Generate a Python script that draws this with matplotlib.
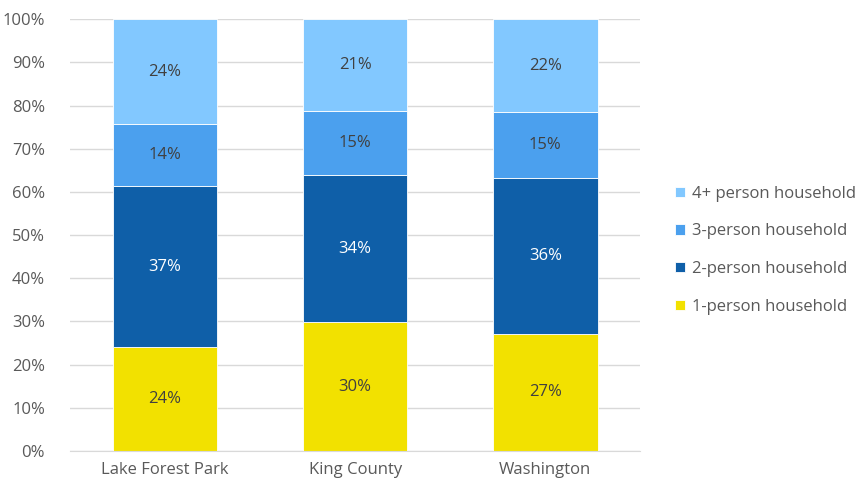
import numpy as np
import matplotlib
matplotlib.use("Agg")
import matplotlib.pyplot as plt

plt.rcParams["font.family"] = ["Open Sans", "DejaVu Sans"]

places = ["Lake Forest Park", "King County", "Washington"]
series = ["1-person household", "2-person household", "3-person household", "4+ person household"]
one_person = [24.0, 29.8, 27.2]
two_person = [37.4, 34.0, 35.9]
three_person = [14.3, 15.0, 15.3]
four_plus = [24.3, 21.2, 21.6]
colors = ["#F2E100", "#0F5FA8", "#4BA0EE", "#82C8FF"]
label_colors = ["#404040", "white", "#404040", "#404040"]

fig = plt.figure(figsize=(8.59, 4.88), dpi=100)
ax = fig.add_axes([0.0815, 0.0758, 0.664, 0.885])

x = np.arange(len(places))
bottom = np.zeros(len(places))
handles = []
for vals, name, c, lc in zip([one_person, two_person, three_person, four_plus], series, colors, label_colors):
    vals = np.array(vals)
    b = ax.bar(x, vals, 0.55, bottom=bottom, color=c, label=name, zorder=2,
               edgecolor="white", linewidth=0.6)
    handles.append(b)
    for xi, v, bt in zip(x, vals, bottom):
        ax.text(xi, bt + v / 2, f"{round(v):.0f}%", ha="center", va="center",
                fontsize=12, color=lc, zorder=3)
    bottom += vals

ax.set_xlim(-0.5, 2.5)
ax.set_ylim(0, 100)
ax.set_yticks(range(0, 101, 10))
ax.set_yticklabels([f"{t}%" for t in range(0, 101, 10)])
ax.set_xticks(x)
ax.set_xticklabels(places)
ax.grid(axis="y", color="#D9D9D9", linewidth=1, zorder=0)
for s in ["top", "right", "left"]:
    ax.spines[s].set_visible(False)
ax.spines["bottom"].set_color("#D9D9D9")
ax.tick_params(length=0, labelsize=12, colors="#595959")
ax.tick_params(axis="y", pad=18)
ax.tick_params(axis="x", pad=8)

leg = ax.legend(handles[::-1], series[::-1], loc="center left",
                bbox_to_anchor=(1.035, 0.465), frameon=False, fontsize=12,
                labelcolor="#595959", handlelength=0.6, handleheight=0.6,
                handletextpad=0.4, labelspacing=1.3)

fig.savefig("out.png", dpi=100)
